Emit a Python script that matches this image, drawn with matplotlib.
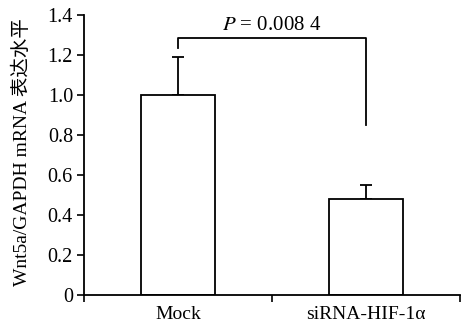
import matplotlib
matplotlib.use("Agg")
import matplotlib.pyplot as plt
import numpy as np

categories = ["Mock", "siRNA-HIF-1α"]
values = [1.0, 0.48]
errors = [0.19, 0.07]
yticks = [0, 0.2, 0.4, 0.6, 0.8, 1.0, 1.2, 1.4]
ytick_labels = ["0", "0.2", "0.4", "0.6", "0.8", "1.0", "1.2", "1.4"]
p_text = "0.008 4"
bracket_left_y = 1.235
bracket_top_y = 1.285
bracket_right_y = 0.85

plt.rcParams['font.family'] = ['Liberation Serif', 'Noto Sans CJK SC']
plt.rcParams['mathtext.fontset'] = 'stix'

fig = plt.figure(figsize=(4.62, 3.24), dpi=100)
ax = fig.add_axes([0.182, 0.0895, 0.814, 0.865])

x = np.arange(len(categories))
ax.bar(x, values, width=0.39, color='white', edgecolor='black', linewidth=1.3, zorder=2)
ax.errorbar(x, values, yerr=[np.zeros(len(values)), errors], fmt='none',
            ecolor='black', elinewidth=1.3, capsize=4, capthick=1.3, zorder=1)

# significance bracket
ax.plot([x[0], x[0], x[1], x[1]],
        [bracket_left_y, bracket_top_y, bracket_top_y, bracket_right_y],
        color='black', linewidth=1.3)
ax.text((x[0] + x[1]) / 2, 1.325, r'$P$ = ' + p_text, ha='center', va='baseline', fontsize=15)

ax.set_xlim(-0.5, 1.5)
ax.set_ylim(0, 1.4)
ax.set_yticks(yticks)
ax.set_yticklabels(ytick_labels, fontsize=14.5)
ax.set_xticks(x)
ax.set_xticklabels(categories, fontsize=14)
ax.tick_params(axis='x', which='major', length=0, pad=8)
ax.set_xticks([-0.5, 0.5, 1.5], minor=True)
ax.tick_params(axis='x', which='minor', length=5, width=1.2, direction='out')
ax.tick_params(axis='y', length=5, width=1.2, direction='out', pad=3)

for s in ['top', 'right']:
    ax.spines[s].set_visible(False)
for s in ['left', 'bottom']:
    ax.spines[s].set_linewidth(1.3)

ax.set_ylabel('Wnt5a/GAPDH mRNA 表达水平', fontsize=14)
ax.yaxis.set_label_coords(-0.141, 0.51)

fig.savefig('out.png', dpi=100)
